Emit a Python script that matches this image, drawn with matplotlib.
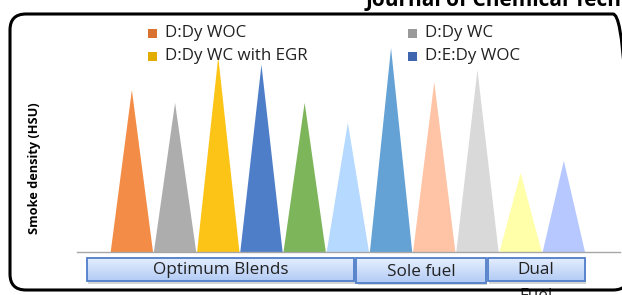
import numpy as np
import matplotlib
matplotlib.use('Agg')
import matplotlib.pyplot as plt
from matplotlib.patches import FancyBboxPatch, Rectangle
import matplotlib.transforms as mtransforms

# Smoke density (HSU) per blend
blends = ['D:Dy WOC', 'D:Dy WC', 'D:Dy WC with EGR', 'D:E:Dy WOC', 'D:E:Dy WC',
          'D:E:Dy WC with EGR', 'Diesel', 'Dy', 'E', 'D:Dy dual', 'D:E:Dy dual']
smoke = [40.5, 37.3, 48.8, 46.8, 37.3, 32.3, 51.0, 42.5, 45.5, 19.8, 22.8]
colors = ['#F28C46', '#ADADAD', '#FDC418', '#4F7EC8', '#7DB55A', '#B6DAFF',
          '#64A2D6', '#FFC4A6', '#D9D9D9', '#FFFFAA', '#B6C8FF']
legend_colors = ['#D9722E', '#999999', '#E2AD00', '#3F65AE']

# group labels and the x extents of their boxes (category units)
groups = ['Optimum Blends', 'Sole fuel', 'Dual\nFuel']
group_spans = [(-1.04, 5.15), (5.2, 8.2), (8.24, 10.48)]

W, H = 622, 295
fig = plt.figure(figsize=(W / 100, H / 100), dpi=100)


def px(x0, y0, x1, y1):
    # pixel box (top-left origin) -> figure fraction rect
    return [x0 / W, 1 - y1 / H, (x1 - x0) / W, (y1 - y0) / H]


ax = fig.add_axes(px(77, 40, 620, 252))
for i, (v, c) in enumerate(zip(smoke, colors)):
    ax.fill([i - 0.49, i, i + 0.49], [0, v, 0], color=c, lw=0, zorder=2)

for s in ['top', 'right', 'left']:
    ax.spines[s].set_visible(False)
ax.spines['bottom'].set_color('#A6A6A6')
ax.spines['bottom'].set_linewidth(1.0)
ax.set_xticks([])
ax.set_yticks([])
ax.patch.set_alpha(0)

# group boxes below the axis
trans = mtransforms.blended_transform_factory(ax.transData, ax.transAxes)
grad = np.linspace(0, 1, 50).reshape(-1, 1)
cmap = matplotlib.colors.LinearSegmentedColormap.from_list('g', ['#E6F0FF', '#B3CBF5'])
for k, (name, (a, b)) in enumerate(zip(groups, group_spans)):
    y0, y1 = -0.026, -0.138
    if k == 1:
        y0, y1 = -0.03, -0.146
    shadow = Rectangle((a + 0.03, y1 - 0.012), b - a, y0 - y1, transform=trans,
                       facecolor='#888888', alpha=0.35, lw=0, clip_on=False, zorder=3)
    ax.add_patch(shadow)
    ax.imshow(grad, cmap=cmap, extent=(a, b, y1, y0), transform=trans,
              aspect='auto', clip_on=False, zorder=4, interpolation='bilinear')
    box = Rectangle((a, y1), b - a, y0 - y1, transform=trans, facecolor='none',
                    edgecolor='#4F7EC8', lw=1.3, clip_on=False, zorder=5)
    ax.add_patch(box)
    lines = name.split('\n')
    ax.text((a + b) / 2, (y0 + y1) / 2 - 0.004, lines[0], transform=trans,
            ha='center', va='center', fontsize=12.3, family='Open Sans',
            color='#222222', zorder=6)
    if len(lines) > 1:
        ax.text((a + b) / 2, y1 - 0.068, lines[1], transform=trans,
                ha='center', va='center', fontsize=12.3, family='Open Sans',
                color='#222222', zorder=6)
ax.set_xlim(-1.27, 11.3)
ax.set_ylim(0, 53)

# legend (only first four entries visible in the crop)
leg_pos = [(148, 33), (408, 33), (148, 56), (408, 56)]
for (lx, ly), name, c in zip(leg_pos, blends[:4], legend_colors):
    fig.patches.append(Rectangle((lx / W, 1 - (ly + 4.5) / H), 9 / W, 9 / H,
                                 transform=fig.transFigure, facecolor=c, lw=0))
    fig.text((lx + 17) / W, 1 - ly / H, name, ha='left', va='center',
             fontsize=12.2, family='Open Sans', color='#222222')

fig.text(35 / W, 1 - 168 / H, 'Smoke density (HSU)', rotation=90, ha='center',
         va='center', fontsize=9.2, fontweight='bold', family='Open Sans', color='black')

# outer rounded frame (right side runs just past the crop)
frame = FancyBboxPatch((0.10, 0.05), 6.19, 2.76,
                       boxstyle='round,pad=0,rounding_size=0.16',
                       transform=fig.dpi_scale_trans, facecolor='none',
                       edgecolor='black', lw=2.2)
fig.patches.append(frame)

fig.text(366 / W, 1 - 6 / H, 'Journal of Chemical Technology', ha='left',
         va='baseline', fontsize=15, fontweight='bold', family='Open Sans',
         color='black')

fig.savefig('out.png', dpi=100)
